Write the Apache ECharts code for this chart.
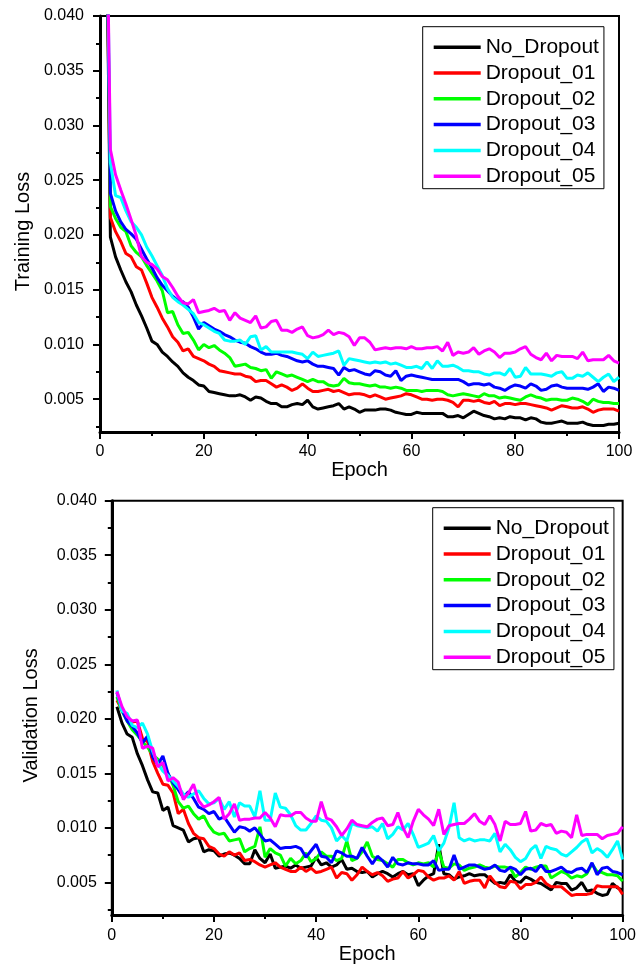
<!DOCTYPE html>
<html>
<head>
<meta charset="utf-8">
<title>Training / Validation Loss</title>
<script src="https://cdn.jsdelivr.net/npm/echarts@6/dist/echarts.min.js"></script>
<style>
  html, body { margin: 0; padding: 0; background: #fff; }
  #chart { width: 639px; height: 965px; }
</style>
</head>
<body>
<div id="chart"></div>
<script>
// epochs 1..100
var epochs = Array.from({ length: 100 }, function (_, i) { return i + 1; });

var seriesNames = ['No_Dropout', 'Dropout_01', 'Dropout_02', 'Dropout_03', 'Dropout_04', 'Dropout_05'];
var seriesColors = ['#000000', '#ff0000', '#00ff00', '#0000ff', '#00ffff', '#ff00ff'];

var yTickValues = [0.005, 0.010, 0.015, 0.020, 0.025, 0.030, 0.035, 0.040];
var yMinorTickValues = [0.0025, 0.0075, 0.0125, 0.0175, 0.0225, 0.0275, 0.0325, 0.0375];

// ---- training loss (top) ----
var trainNoDropout = [0.060,0.0198,0.0180,0.0168,0.0157,0.0148,0.0136,0.0126,0.0115,0.0103,
  0.0100,0.0093,0.0089,0.0084,0.0080,0.0074,0.0070,0.0067,0.0063,0.0062,
  0.0057,0.0056,0.0055,0.0054,0.0053,0.0053,0.0054,0.0052,0.0049,0.0052,
  0.0051,0.0048,0.0046,0.0046,0.0043,0.0043,0.0045,0.0046,0.0045,0.0049,
  0.0043,0.0041,0.0042,0.0043,0.0044,0.0046,0.0041,0.0043,0.0041,0.0038,
  0.0040,0.0040,0.0040,0.0041,0.0041,0.0040,0.0038,0.0037,0.0036,0.0036,
  0.0038,0.0037,0.0037,0.0037,0.0037,0.0037,0.0034,0.0034,0.0035,0.0033,
  0.0036,0.0039,0.0037,0.0035,0.0034,0.0032,0.0033,0.0032,0.0034,0.0033,
  0.0033,0.0031,0.0033,0.0032,0.0029,0.0028,0.0028,0.0029,0.0030,0.0028,
  0.0028,0.0028,0.0029,0.0027,0.0026,0.0026,0.0026,0.0027,0.0027,0.0028];
var trainDropout01 = [0.060,0.0216,0.0203,0.0194,0.0183,0.0180,0.0171,0.0168,0.0156,0.0143,
  0.0134,0.0124,0.0116,0.0107,0.0102,0.0094,0.0096,0.0089,0.0087,0.0085,
  0.0082,0.0080,0.0076,0.0075,0.0074,0.0073,0.0073,0.0071,0.0070,0.0066,
  0.0067,0.0067,0.0064,0.0061,0.0063,0.0061,0.0058,0.0060,0.0064,0.0060,
  0.0057,0.0057,0.0058,0.0059,0.0057,0.0058,0.0056,0.0054,0.0055,0.0055,
  0.0054,0.0052,0.0054,0.0052,0.0050,0.0051,0.0052,0.0053,0.0055,0.0054,
  0.0052,0.0050,0.0050,0.0049,0.0050,0.0050,0.0049,0.0047,0.0043,0.0049,
  0.0049,0.0048,0.0049,0.0047,0.0046,0.0048,0.0044,0.0046,0.0046,0.0045,
  0.0046,0.0046,0.0045,0.0044,0.0043,0.0042,0.0040,0.0042,0.0044,0.0043,
  0.0042,0.0042,0.0043,0.0041,0.0038,0.0040,0.0041,0.0041,0.0041,0.0039];
var trainDropout02 = [0.060,0.0226,0.0215,0.0207,0.0203,0.0190,0.0184,0.0180,0.0172,0.0165,
  0.0158,0.0149,0.0129,0.0130,0.0118,0.0110,0.0111,0.0104,0.0095,0.0100,
  0.0097,0.0099,0.0095,0.0092,0.0088,0.0080,0.0081,0.0082,0.0079,0.0078,
  0.0076,0.0077,0.0069,0.0075,0.0073,0.0071,0.0072,0.0070,0.0068,0.0066,
  0.0068,0.0066,0.0066,0.0063,0.0062,0.0063,0.0069,0.0065,0.0064,0.0064,
  0.0063,0.0062,0.0063,0.0061,0.0061,0.0060,0.0061,0.0060,0.0058,0.0058,
  0.0058,0.0057,0.0058,0.0058,0.0058,0.0057,0.0054,0.0053,0.0054,0.0055,
  0.0054,0.0053,0.0052,0.0055,0.0053,0.0053,0.0051,0.0052,0.0051,0.0050,
  0.0049,0.0052,0.0054,0.0052,0.0051,0.0049,0.0050,0.0050,0.0049,0.0049,
  0.0051,0.0050,0.0048,0.0045,0.0050,0.0048,0.0047,0.0047,0.0046,0.0046];
var trainDropout03 = [0.060,0.0238,0.0222,0.0212,0.0205,0.0201,0.0196,0.0187,0.0178,0.0170,
  0.0161,0.0154,0.0149,0.0144,0.0140,0.0139,0.0134,0.0125,0.0114,0.0120,
  0.0117,0.0114,0.0112,0.0109,0.0107,0.0104,0.0102,0.0101,0.0098,0.0096,
  0.0093,0.0091,0.0091,0.0092,0.0090,0.0089,0.0087,0.0085,0.0084,0.0085,
  0.0082,0.0080,0.0080,0.0079,0.0078,0.0072,0.0079,0.0076,0.0077,0.0075,
  0.0073,0.0072,0.0076,0.0075,0.0072,0.0071,0.0076,0.0067,0.0071,0.0072,
  0.0071,0.0070,0.0069,0.0068,0.0068,0.0068,0.0068,0.0068,0.0068,0.0066,
  0.0063,0.0064,0.0064,0.0063,0.0064,0.0061,0.0060,0.0058,0.0061,0.0063,
  0.0062,0.0060,0.0064,0.0062,0.0058,0.0059,0.0062,0.0063,0.0061,0.0060,
  0.0060,0.0060,0.0060,0.0059,0.0061,0.0064,0.0057,0.0061,0.0060,0.0058];
var trainDropout04 = [0.060,0.0266,0.0236,0.0234,0.0222,0.0212,0.0207,0.0200,0.0189,0.0181,
  0.0172,0.0163,0.0151,0.0143,0.0139,0.0136,0.0132,0.0128,0.0120,0.0118,
  0.0115,0.0112,0.0110,0.0104,0.0103,0.0103,0.0104,0.0100,0.0107,0.0108,
  0.0095,0.0098,0.0093,0.0093,0.0093,0.0093,0.0093,0.0092,0.0091,0.0087,
  0.0093,0.0089,0.0090,0.0091,0.0092,0.0094,0.0081,0.0087,0.0086,0.0085,
  0.0084,0.0083,0.0084,0.0083,0.0084,0.0082,0.0083,0.0081,0.0079,0.0079,
  0.0080,0.0078,0.0084,0.0078,0.0085,0.0080,0.0080,0.0081,0.0079,0.0076,
  0.0076,0.0075,0.0075,0.0073,0.0072,0.0074,0.0074,0.0072,0.0078,0.0070,
  0.0071,0.0079,0.0073,0.0073,0.0073,0.0072,0.0071,0.0074,0.0075,0.0069,
  0.0069,0.0072,0.0071,0.0074,0.0070,0.0066,0.0070,0.0073,0.0066,0.0070];
var trainDropout05 = [0.060,0.0278,0.0255,0.0241,0.0228,0.0214,0.0199,0.0180,0.0175,0.0173,
  0.0169,0.0162,0.0159,0.0152,0.0144,0.0138,0.0137,0.0141,0.0129,0.0130,
  0.0131,0.0133,0.0130,0.0131,0.0122,0.0129,0.0124,0.0122,0.0120,0.0126,
  0.0115,0.0116,0.0121,0.0122,0.0113,0.0113,0.0111,0.0114,0.0116,0.0108,
  0.0106,0.0107,0.0109,0.0113,0.0109,0.0111,0.0110,0.0107,0.0099,0.0106,
  0.0106,0.0102,0.0095,0.0096,0.0097,0.0096,0.0097,0.0097,0.0096,0.0098,
  0.0096,0.0096,0.0097,0.0097,0.0098,0.0094,0.0102,0.0090,0.0093,0.0092,
  0.0093,0.0097,0.0091,0.0094,0.0096,0.0093,0.0088,0.0092,0.0092,0.0093,
  0.0096,0.0098,0.0091,0.0088,0.0086,0.0092,0.0085,0.0090,0.0089,0.0089,
  0.0089,0.0087,0.0093,0.0085,0.0086,0.0086,0.0086,0.0090,0.0085,0.0083];

// ---- validation loss (bottom) ----
var valNoDropout = [0.0211,0.0196,0.0186,0.0183,0.0168,0.0157,0.0144,0.0133,0.0132,0.0116,
  0.0119,0.0102,0.0100,0.0098,0.0087,0.0090,0.0091,0.0078,0.0080,0.0079,
  0.0074,0.0076,0.0077,0.0075,0.0072,0.0067,0.0067,0.0080,0.0072,0.0068,
  0.0076,0.0063,0.0064,0.0065,0.0063,0.0066,0.0063,0.0064,0.0065,0.0073,
  0.0066,0.0068,0.0064,0.0066,0.0071,0.0062,0.0063,0.0060,0.0059,0.0060,
  0.0055,0.0058,0.0060,0.0058,0.0055,0.0058,0.0060,0.0057,0.0058,0.0047,
  0.0052,0.0056,0.0058,0.0085,0.0058,0.0057,0.0053,0.0055,0.0056,0.0058,
  0.0056,0.0057,0.0057,0.0053,0.0049,0.0050,0.0049,0.0057,0.0051,0.0050,
  0.0055,0.0053,0.0050,0.0049,0.0046,0.0043,0.0050,0.0049,0.0049,0.0043,
  0.0045,0.0050,0.0042,0.0043,0.0040,0.0038,0.0039,0.0049,0.0045,0.0043];
var valDropout01 = [0.0217,0.0208,0.0201,0.0197,0.0198,0.0182,0.0179,0.0161,0.0150,0.0140,
  0.0139,0.0132,0.0113,0.0117,0.0104,0.0095,0.0091,0.0090,0.0083,0.0081,
  0.0076,0.0074,0.0078,0.0075,0.0077,0.0070,0.0071,0.0069,0.0066,0.0064,
  0.0066,0.0068,0.0064,0.0062,0.0060,0.0060,0.0064,0.0060,0.0063,0.0059,
  0.0060,0.0062,0.0064,0.0054,0.0059,0.0058,0.0052,0.0057,0.0064,0.0060,
  0.0057,0.0059,0.0056,0.0051,0.0053,0.0054,0.0060,0.0054,0.0057,0.0061,
  0.0060,0.0055,0.0052,0.0054,0.0054,0.0056,0.0052,0.0060,0.0049,0.0051,
  0.0052,0.0052,0.0045,0.0056,0.0050,0.0046,0.0045,0.0051,0.0050,0.0044,
  0.0048,0.0048,0.0050,0.0055,0.0049,0.0046,0.0046,0.0046,0.0042,0.0038,
  0.0039,0.0039,0.0039,0.0040,0.0047,0.0046,0.0046,0.0046,0.0046,0.0039];
var valDropout02 = [0.0220,0.0207,0.0198,0.0190,0.0185,0.0179,0.0174,0.0167,0.0163,0.0157,
  0.0150,0.0139,0.0124,0.0118,0.0120,0.0113,0.0108,0.0111,0.0102,0.0096,
  0.0094,0.0095,0.0088,0.0089,0.0090,0.0078,0.0081,0.0083,0.0101,0.0073,
  0.0081,0.0077,0.0075,0.0065,0.0072,0.0067,0.0070,0.0077,0.0069,0.0072,
  0.0078,0.0074,0.0074,0.0070,0.0072,0.0088,0.0070,0.0072,0.0078,0.0087,
  0.0074,0.0071,0.0070,0.0067,0.0064,0.0071,0.0071,0.0068,0.0066,0.0068,
  0.0067,0.0068,0.0064,0.0079,0.0064,0.0063,0.0067,0.0066,0.0061,0.0063,
  0.0064,0.0066,0.0064,0.0063,0.0065,0.0064,0.0064,0.0063,0.0055,0.0059,
  0.0064,0.0062,0.0064,0.0065,0.0065,0.0054,0.0057,0.0060,0.0058,0.0054,
  0.0056,0.0055,0.0058,0.0067,0.0060,0.0059,0.0057,0.0057,0.0056,0.0051];
var valDropout03 = [0.0224,0.0208,0.0198,0.0193,0.0187,0.0178,0.0184,0.0165,0.0158,0.0166,
  0.0150,0.0141,0.0135,0.0128,0.0133,0.0127,0.0119,0.0117,0.0113,0.0115,
  0.0108,0.0110,0.0103,0.0096,0.0101,0.0100,0.0097,0.0100,0.0094,0.0088,
  0.0089,0.0085,0.0081,0.0082,0.0082,0.0083,0.0081,0.0073,0.0079,0.0085,
  0.0074,0.0073,0.0068,0.0079,0.0077,0.0074,0.0074,0.0072,0.0082,0.0074,
  0.0067,0.0074,0.0070,0.0064,0.0073,0.0067,0.0066,0.0068,0.0067,0.0067,
  0.0066,0.0066,0.0070,0.0061,0.0062,0.0062,0.0075,0.0062,0.0064,0.0066,
  0.0066,0.0064,0.0062,0.0063,0.0066,0.0061,0.0060,0.0064,0.0062,0.0057,
  0.0062,0.0063,0.0060,0.0066,0.0060,0.0060,0.0062,0.0064,0.0060,0.0059,
  0.0062,0.0063,0.0059,0.0068,0.0057,0.0063,0.0064,0.0060,0.0059,0.0057];
var valDropout04 = [0.0226,0.0207,0.0205,0.0194,0.0192,0.0196,0.0186,0.0170,0.0159,0.0152,
  0.0148,0.0143,0.0138,0.0131,0.0128,0.0131,0.0134,0.0127,0.0122,0.0123,
  0.0127,0.0117,0.0124,0.0110,0.0123,0.0120,0.0120,0.0110,0.0134,0.0107,
  0.0107,0.0132,0.0119,0.0118,0.0112,0.0102,0.0098,0.0098,0.0104,0.0111,
  0.0107,0.0106,0.0100,0.0088,0.0093,0.0088,0.0104,0.0102,0.0101,0.0100,
  0.0101,0.0097,0.0104,0.0090,0.0094,0.0101,0.0098,0.0104,0.0094,0.0082,
  0.0084,0.0086,0.0093,0.0079,0.0086,0.0100,0.0123,0.0091,0.0088,0.0090,
  0.0088,0.0089,0.0089,0.0088,0.0095,0.0078,0.0085,0.0080,0.0073,0.0069,
  0.0072,0.0080,0.0084,0.0072,0.0083,0.0081,0.0080,0.0076,0.0074,0.0078,
  0.0082,0.0087,0.0090,0.0077,0.0081,0.0078,0.0073,0.0080,0.0088,0.0071];
var valDropout05 = [0.0225,0.0211,0.0202,0.0198,0.0199,0.0173,0.0175,0.0173,0.0156,0.0160,
  0.0143,0.0146,0.0142,0.0126,0.0132,0.0140,0.0125,0.0119,0.0121,0.0124,
  0.0128,0.0108,0.0113,0.0122,0.0107,0.0108,0.0108,0.0109,0.0109,0.0114,
  0.0109,0.0101,0.0112,0.0111,0.0111,0.0114,0.0114,0.0109,0.0106,0.0106,
  0.0124,0.0109,0.0107,0.0101,0.0093,0.0099,0.0107,0.0103,0.0102,0.0101,
  0.0105,0.0108,0.0109,0.0102,0.0103,0.0114,0.0100,0.0091,0.0106,0.0117,
  0.0112,0.0108,0.0102,0.0117,0.0094,0.0102,0.0103,0.0104,0.0104,0.0108,
  0.0113,0.0106,0.0103,0.0111,0.0103,0.0088,0.0106,0.0103,0.0103,0.0104,
  0.0115,0.0097,0.0098,0.0104,0.0102,0.0103,0.0095,0.0097,0.0096,0.0091,
  0.0112,0.0093,0.0094,0.0094,0.0094,0.0090,0.0093,0.0094,0.0095,0.0101];

var trainData = [trainNoDropout, trainDropout01, trainDropout02, trainDropout03, trainDropout04, trainDropout05];
var valData = [valNoDropout, valDropout01, valDropout02, valDropout03, valDropout04, valDropout05];

var FONT = '"Liberation Sans", Arial, sans-serif';

function makeXAxis(gridIndex) {
  return {
    gridIndex: gridIndex,
    type: 'value',
    min: 0,
    max: 100,
    interval: 20,
    name: 'Epoch',
    nameLocation: 'middle',
    nameGap: 27,
    nameTextStyle: { fontSize: 20, color: '#000', fontFamily: FONT },
    axisLine: { show: true, onZero: false, lineStyle: { color: '#000', width: 3 } },
    axisTick: { show: true, inside: false, length: 7, lineStyle: { color: '#000', width: 2 } },
    minorTick: { show: true, splitNumber: 2, length: 4, lineStyle: { color: '#000', width: 2 } },
    axisLabel: { margin: 12, fontSize: 16, color: '#000', fontFamily: FONT },
    splitLine: { show: false }
  };
}

function makeYAxis(gridIndex, name, nameGap, labelMargin) {
  return {
    gridIndex: gridIndex,
    type: 'value',
    min: 0.002,
    max: 0.040,
    name: name,
    nameLocation: 'middle',
    nameGap: nameGap,
    // padding at the end of the text pushes the rotated name down a little
    nameTextStyle: { fontSize: 20, color: '#000', fontFamily: FONT, padding: [0, 15, 0, 0] },
    axisLine: { show: true, onZero: false, lineStyle: { color: '#000', width: 3 } },
    axisTick: { show: true, inside: false, length: 7, customValues: yTickValues, lineStyle: { color: '#000', width: 2 } },
    axisLabel: {
      customValues: yTickValues,
      margin: labelMargin,
      fontSize: 16,
      color: '#000',
      fontFamily: FONT,
      formatter: function (v) { return v.toFixed(3); }
    },
    splitLine: { show: false }
  };
}

// second y axis on the same grid, only for the small in-between ticks
function makeMinorYAxis(gridIndex) {
  return {
    gridIndex: gridIndex,
    type: 'value',
    position: 'left',
    min: 0.002,
    max: 0.040,
    axisLine: { show: false },
    axisTick: { show: true, inside: false, length: 4, customValues: yMinorTickValues, lineStyle: { color: '#000', width: 2 } },
    axisLabel: { show: false },
    splitLine: { show: false }
  };
}

function makeLegend(left, top) {
  return {
    data: seriesNames,
    orient: 'vertical',
    left: left,
    top: top,
    padding: [10, 5, 2, 11],
    icon: 'rect',
    itemWidth: 47,
    itemHeight: 3.5,
    itemGap: 4.8,
    borderColor: '#000',
    borderWidth: 1,
    backgroundColor: '#fff',
    textStyle: { fontSize: 21, lineHeight: 20, color: '#000', fontFamily: FONT }
  };
}

var series = [];
seriesNames.forEach(function (name, k) {
  series.push({
    name: name,
    type: 'line',
    xAxisIndex: 0,
    yAxisIndex: 0,
    symbol: 'none',
    clip: true,
    color: seriesColors[k],
    lineStyle: { width: 3, color: seriesColors[k] },
    data: epochs.map(function (e, i) { return [e, trainData[k][i]]; })
  });
});
seriesNames.forEach(function (name, k) {
  series.push({
    name: name,
    type: 'line',
    xAxisIndex: 1,
    yAxisIndex: 2,
    symbol: 'none',
    clip: true,
    color: seriesColors[k],
    lineStyle: { width: 3, color: seriesColors[k] },
    data: epochs.map(function (e, i) { return [e, valData[k][i]]; })
  });
});

var myChart = echarts.init(document.getElementById('chart'));
myChart.setOption({
  animation: false,
  backgroundColor: '#fff',
  textStyle: { fontFamily: FONT },
  grid: [
    { left: 100, top: 16, width: 519, height: 416, show: true, borderColor: '#000', borderWidth: 2 },
    { left: 111.8, top: 500.7, width: 511.5, height: 414.7, show: true, borderColor: '#000', borderWidth: 2 }
  ],
  legend: [makeLegend(422.7, 26.7), makeLegend(432.7, 507.7)],
  xAxis: [makeXAxis(0), makeXAxis(1)],
  yAxis: [
    makeYAxis(0, 'Training Loss', 66, 16),
    makeMinorYAxis(0),
    makeYAxis(1, 'Validation Loss', 70, 15),
    makeMinorYAxis(1)
  ],
  series: series
});
</script>
</body>
</html>
